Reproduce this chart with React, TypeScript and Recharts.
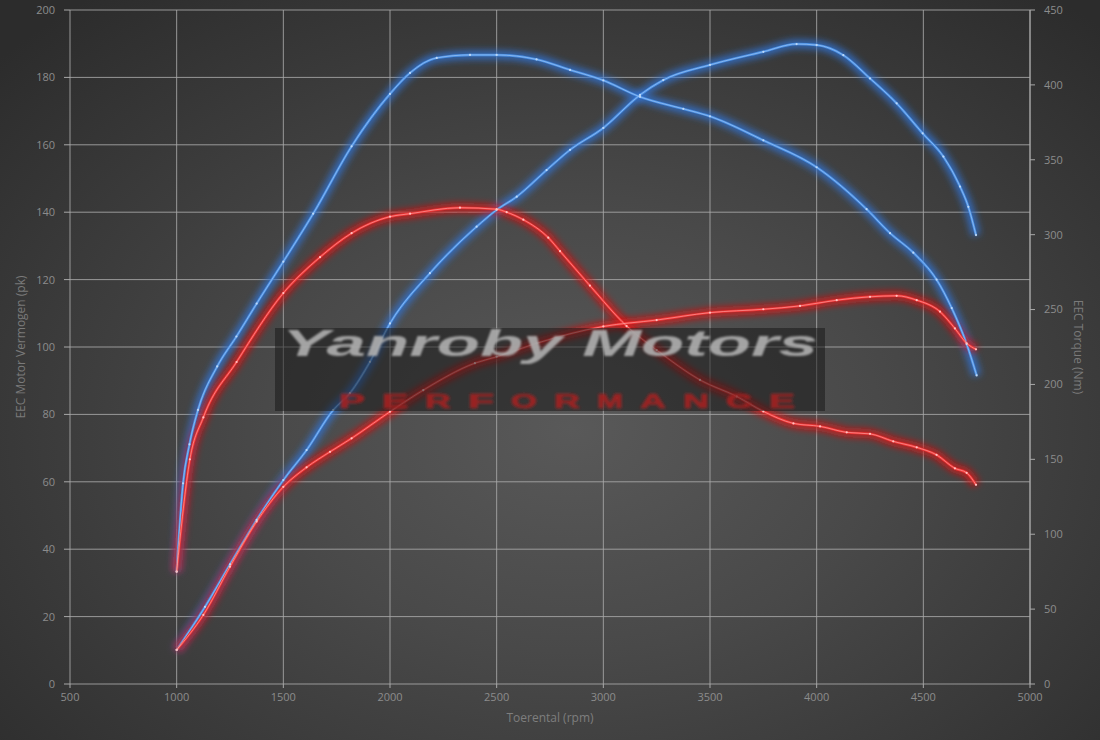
import React from 'react';
import { LineChart, Line, XAxis, YAxis, CartesianGrid } from 'recharts';

// Blue torque (Nm, right axis)
const blueTorqueRpm = [1000, 1030, 1060, 1100, 1190, 1280, 1375, 1500, 1640, 1820, 2000, 2094, 2219, 2375, 2500, 2687, 2844, 3000, 3172, 3375, 3500, 3750, 4000, 4234, 4344, 4453, 4562, 4633, 4703, 4750];
const blueTorqueNm = [75, 134, 160, 183, 212, 232, 254, 282, 314, 359, 394, 408, 418, 420, 420, 417, 410, 403, 392, 384, 379, 363, 345, 317, 301, 288, 270, 251, 227, 206];

// Blue power (pk, left axis)
const bluePowerRpm = [1000, 1133, 1250, 1375, 1500, 1609, 1734, 1812, 1906, 2000, 2187, 2406, 2500, 2594, 2734, 2844, 3000, 3172, 3281, 3500, 3750, 3906, 4000, 4125, 4250, 4375, 4497, 4594, 4672, 4711, 4747];
const bluePowerPk = [10.1, 22.9, 35.5, 48.7, 60.5, 69.4, 81.3, 86.3, 95.6, 107, 121.9, 135.7, 140.7, 144.6, 152.5, 158.5, 165, 174.8, 179.2, 183.7, 187.6, 189.9, 189.6, 186.6, 179.7, 172.3, 163.4, 156.5, 147.6, 141.6, 133.2];

// Red torque (Nm, right axis)
const redTorqueRpm = [1000, 1062, 1125, 1281, 1500, 1672, 1820, 2000, 2094, 2328, 2500, 2547, 2625, 2742, 2797, 2937, 3109, 3250, 3453, 3625, 3750, 3891, 4016, 4141, 4250, 4359, 4469, 4562, 4648, 4703, 4747];
const redTorqueNm = [75, 150, 178, 215, 261, 285, 301, 312, 314, 318, 317, 315, 310, 298, 289, 266, 239, 223, 203, 192, 182, 174, 172, 168, 167, 162, 158, 153, 144, 141, 133];

// Red power (pk, left axis)
const redPowerRpm = [1000, 1125, 1250, 1375, 1500, 1609, 1719, 1820, 2000, 2156, 2398, 2500, 2687, 3000, 3250, 3500, 3750, 3922, 4094, 4250, 4375, 4469, 4578, 4648, 4703, 4747];
const redPowerPk = [10.1, 20.5, 34.8, 48.2, 58.5, 64.3, 68.9, 72.9, 80.8, 87.2, 95.2, 97.1, 101.1, 106.1, 108, 110.2, 111.2, 112.2, 113.9, 114.9, 115.2, 113.9, 110.5, 105.5, 101.1, 99.3];

const xTicks = [500, 1000, 1500, 2000, 2500, 3000, 3500, 4000, 4500, 5000];
const leftTicks = [0, 20, 40, 60, 80, 100, 120, 140, 160, 180, 200];
const rightTicks = [0, 50, 100, 150, 200, 250, 300, 350, 400, 450];

const watermarkTitle = 'Yanroby Motors';
const watermarkSub = 'PERFORMANCE';

const toData = (xs: number[], ys: number[]) => xs.map((rpm, i) => ({ rpm, v: ys[i] }));

const blueTorque = toData(blueTorqueRpm, blueTorqueNm);
const bluePower = toData(bluePowerRpm, bluePowerPk);
const redTorque = toData(redTorqueRpm, redTorqueNm);
const redPower = toData(redPowerRpm, redPowerPk);

const FONT = '"Open Sans", "DejaVu Sans", sans-serif';
const tickStyle = { fill: '#8c8c8c', fontSize: 11, fontFamily: FONT };
const gridColor = '#a9a9a9';

export default function App() {
  const series = [
    { key: 'bt', data: blueTorque, axis: 'right', halo: 'haloB', color: '#2f74d8', core: '#4a90e6', dot: '#bcd8f7' },
    { key: 'bp', data: bluePower, axis: 'left', halo: 'haloB', color: '#2f74d8', core: '#4a90e6', dot: '#bcd8f7' },
    { key: 'rt', data: redTorque, axis: 'right', halo: 'haloR', color: '#e31414', core: '#f03636', dot: '#ffc0c0' },
    { key: 'rp', data: redPower, axis: 'left', halo: 'haloR', color: '#e31414', core: '#f03636', dot: '#ffc0c0' },
  ];
  const subLetters = watermarkSub.split('');
  return (
    <div
      style={{
        position: 'absolute',
        left: 0,
        top: 0,
        width: 1100,
        height: 740,
        overflow: 'hidden',
        background: 'radial-gradient(ellipse 70% 75% at 52% 58%, #595959 0%, #494949 40%, #383838 75%, #2c2c2c 100%)',
      }}
    >
      <style>{`
        .haloB .recharts-line-curve { filter: url(#fGlowB); }
        .haloR .recharts-line-curve { filter: url(#fGlowR); }
      `}</style>
      <svg width={0} height={0} style={{ position: 'absolute' }}>
        <defs>
          <filter id="fGlowB" filterUnits="userSpaceOnUse" x="0" y="0" width="1100" height="740">
            <feGaussianBlur stdDeviation="3.6" />
          </filter>
          <filter id="fGlowR" filterUnits="userSpaceOnUse" x="0" y="0" width="1100" height="740">
            <feGaussianBlur stdDeviation="3.6" />
          </filter>
          <filter id="fSoft" filterUnits="userSpaceOnUse" x="0" y="0" width="1100" height="740">
            <feGaussianBlur stdDeviation="1.1" />
          </filter>
          <filter id="fSofter" filterUnits="userSpaceOnUse" x="0" y="0" width="1100" height="740">
            <feGaussianBlur stdDeviation="1.4" />
          </filter>
        </defs>
      </svg>
      <LineChart width={1100} height={740} margin={{ top: 10, right: 0, bottom: 0, left: 0 }}>
        <CartesianGrid stroke={gridColor} strokeOpacity={0.85} yAxisId="left" />
        <XAxis
          dataKey="rpm"
          type="number"
          domain={[500, 5000]}
          ticks={xTicks}
          height={56}
          axisLine={false}
          tickLine={{ stroke: gridColor }}
          tickSize={4}
          tickMargin={5}
          tick={tickStyle}
          interval={0}
          allowDuplicatedCategory={false}
          label={{ value: 'Toerental (rpm)', position: 'insideBottom', offset: 18, fill: '#7e7e7e', fontSize: 12, fontFamily: FONT }}
        />
        <YAxis
          yAxisId="left"
          orientation="left"
          domain={[0, 200]}
          ticks={leftTicks}
          width={70}
          axisLine={false}
          tickLine={{ stroke: gridColor }}
          tickSize={6}
          tickMargin={9}
          tick={tickStyle}
          interval={0}
          label={{ value: 'EEC Motor Vermogen (pk)', angle: -90, position: 'insideLeft', offset: 21, fill: '#7a7a7a', fontSize: 12, fontFamily: FONT, style: { textAnchor: 'middle' } }}
        />
        <YAxis
          yAxisId="right"
          orientation="right"
          domain={[0, 450]}
          ticks={rightTicks}
          width={70}
          axisLine={{ stroke: gridColor }}
          tickLine={{ stroke: gridColor }}
          tickSize={5}
          tickMargin={9}
          tick={tickStyle}
          interval={0}
          label={{ value: 'EEC Torque (Nm)', angle: 90, position: 'insideRight', offset: 22, fill: '#7a7a7a', fontSize: 12, fontFamily: FONT, style: { textAnchor: 'middle' } }}
        />
        {series.map((s) => (
          <Line
            key={s.key + '-halo'}
            className={s.halo}
            data={s.data}
            dataKey="v"
            yAxisId={s.axis}
            type="monotone"
            stroke={s.color}
            strokeWidth={9}
            strokeOpacity={0.8}
            dot={false}
            activeDot={false}
            isAnimationActive={false}
          />
        ))}
        {series.map((s) => (
          <Line
            key={s.key + '-core'}
            data={s.data}
            dataKey="v"
            yAxisId={s.axis}
            type="monotone"
            stroke={s.core}
            strokeWidth={2.4}
            dot={false}
            activeDot={false}
            isAnimationActive={false}
          />
        ))}
        {series.map((s) => (
          <Line
            key={s.key + '-center'}
            data={s.data}
            dataKey="v"
            yAxisId={s.axis}
            type="monotone"
            stroke={s.dot}
            strokeWidth={0.7}
            strokeOpacity={0.75}
            dot={{ r: 1.1, fill: s.dot, stroke: 'none' }}
            activeDot={false}
            isAnimationActive={false}
          />
        ))}
      </LineChart>
      <svg width={1100} height={740} style={{ position: 'absolute', left: 0, top: 0, pointerEvents: 'none' }}>
        <rect x={275} y={328} width={550} height={83} fill="#141414" fillOpacity={0.5} />
        <text
          x={282}
          y={356}
          textLength={536}
          lengthAdjust="spacingAndGlyphs"
          fontFamily='"Liberation Sans", Arial, sans-serif'
          fontWeight="bold"
          fontStyle="italic"
          fontSize={36}
          fill="#adadad"
          fillOpacity={0.92}
          filter="url(#fSoft)"
        >
          {watermarkTitle}
        </text>
        <g filter="url(#fSofter)">
          {subLetters.map((ch, i) => (
            <text
              key={i}
              x={339 + i * 43}
              y={408}
              textLength={26}
              lengthAdjust="spacingAndGlyphs"
              fontFamily='"Liberation Sans", Arial, sans-serif'
              fontWeight="900"
              fontSize={20}
              fill="#a82222"
              stroke="#a82222"
              strokeWidth={0.6}
              fillOpacity={0.85}
            >
              {ch}
            </text>
          ))}
        </g>
      </svg>
    </div>
  );
}
